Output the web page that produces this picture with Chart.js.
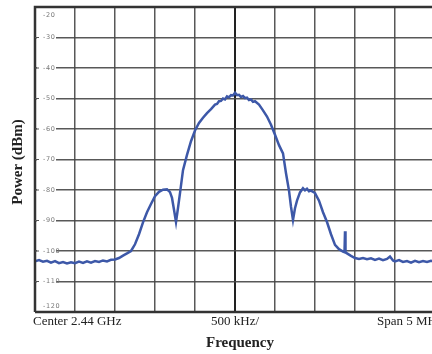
<!DOCTYPE html>
<html>
<head>
<meta charset="utf-8">
<script src="https://cdn.jsdelivr.net/npm/chart.js@4.4.1/dist/chart.umd.min.js"></script>
<style>
  html, body { margin: 0; padding: 0; background: #fff; overflow: hidden; width: 432px; height: 354px; }
  canvas { display: block; }
</style>
</head>
<body>
<canvas id="c" width="440" height="354" style="width:440px;height:354px"></canvas>
<script>
// Frequency offset from centre (MHz) and measured power (dBm)
const freqMHz = [
  -2.50, -2.45, -2.40, -2.35, -2.30, -2.25, -2.20, -2.15, -2.10, -2.05,
  -2.00, -1.95, -1.90, -1.85, -1.80, -1.75, -1.70, -1.65, -1.60, -1.55,
  -1.50, -1.45, -1.40, -1.35, -1.30, -1.25, -1.20, -1.15, -1.10, -1.05,
  -1.00, -0.95, -0.90, -0.85, -0.8125, -0.7875, -0.7625, -0.7375, -0.7125, -0.6875,
  -0.65, -0.60, -0.55, -0.50, -0.45, -0.40, -0.35, -0.30, -0.25, -0.225, -0.20,
  -0.175, -0.15, -0.125, -0.10, -0.075, -0.05, -0.025, 0.00, 0.025, 0.05, 0.075, 0.10, 0.125, 0.15, 0.175, 0.20, 0.225, 0.25, 0.30,
  0.35, 0.40, 0.45, 0.50, 0.55, 0.60, 0.6375, 0.675, 0.70, 0.725,
  0.75, 0.775, 0.8125, 0.85, 0.875, 0.90, 0.925, 0.95, 1.00, 1.05, 1.10, 1.15,
  1.20, 1.25, 1.30, 1.35, 1.36875, 1.375, 1.38125, 1.40, 1.45, 1.50,
  1.55, 1.60, 1.65, 1.70, 1.75, 1.80, 1.85, 1.90, 1.9375, 1.975,
  2.00, 2.05, 2.10, 2.15, 2.20, 2.25, 2.30, 2.35, 2.40, 2.45, 2.50
];
const powerDbm = [
  -103.4, -103.0, -103.5, -103.2, -103.8, -103.3, -104.0, -103.6, -104.1, -103.7,
  -104.0, -103.5, -103.9, -103.4, -103.8, -103.3, -103.6, -103.1, -103.4, -102.9,
  -102.8, -102.3, -101.5, -100.8, -100.0, -97.8, -94.5, -90.6, -87.3, -84.6,
  -82.0, -80.6, -79.9, -79.8, -80.7, -82.6, -86.5, -90.5, -85.9, -81.0,
  -73.5, -68.5, -64.0, -60.5, -58.0, -56.3, -54.8, -53.5, -52.0, -51.8, -50.9,
  -50.8, -50.0, -50.3, -49.3, -49.6, -48.9, -49.0, -48.1, -48.9, -48.8, -49.5, -49.2, -49.9, -49.7, -50.5, -50.3, -51.1, -50.9, -52.0,
  -53.9, -55.9, -58.6, -61.9, -65.3, -68.0, -74.5, -80.2, -85.5, -89.8,
  -86.0, -83.5, -80.8, -79.4, -80.1, -79.6, -80.4, -80.2, -81.0, -83.5, -87.3, -90.5,
  -94.5, -98.0, -99.4, -100.2, -100.4, -93.5, -100.5, -100.8, -101.6, -102.3,
  -102.6, -102.3, -102.7, -102.4, -102.9, -102.5, -103.0, -102.6, -101.8, -103.1,
  -103.4, -103.0, -103.6, -103.3, -103.8, -103.2, -103.7, -103.3, -103.6, -103.2, -103.5
];
const yTickLabels = ['-20', '-30', '-40', '-50', '-60', '-70', '-80', '-90', '-100', '-110', '-120'];
const xInfoLabels = ['Center 2.44 GHz', '500 kHz/', 'Span 5 MHz'];
const xTitle = 'Frequency';
const yTitle = 'Power (dBm)';

const textPlugin = {
  id: 'texts',
  beforeDraw(chart) {
    const ctx = chart.ctx;
    ctx.save();
    ctx.fillStyle = '#fff';
    ctx.fillRect(0, 0, chart.width, chart.height);
    ctx.restore();
  },
  afterDraw(chart) {
    const ctx = chart.ctx;
    const ys = chart.scales.y, xs = chart.scales.x;
    const ca = chart.chartArea;
    ctx.save();
    // border lines
    ctx.strokeStyle = '#333';
    ctx.lineWidth = 2.5;
    ctx.beginPath();
    ctx.moveTo(ca.left, ca.bottom); ctx.lineTo(ca.left, ca.top);
    ctx.lineTo(ca.right, ca.top);
    ctx.moveTo(ca.left, ca.bottom); ctx.lineTo(ca.right, ca.bottom);
    ctx.stroke();
    // y tick labels inside plot
    ctx.font = '6.5px "DejaVu Sans"';
    ctx.textBaseline = 'middle';
    ctx.textAlign = 'left';
    yTickLabels.forEach((lab, i) => {
      let y = ys.getPixelForValue(Number(lab));
      if (i === 0) y += 8;
      if (i === yTickLabels.length - 1) y -= 6;
      ctx.fillStyle = '#fff';
      ctx.fillRect(ca.left + 2, y - 3, 19, 6);
      ctx.strokeStyle = '#555';
      ctx.lineWidth = 1;
      if (i > 0 && i < yTickLabels.length - 1) {
        ctx.beginPath(); ctx.moveTo(ca.left, y); ctx.lineTo(ca.left + 4, y); ctx.stroke();
      }
      ctx.fillStyle = '#777';
      let x = ca.left + 8;
      for (const ch of lab) { ctx.fillText(ch, x, y); x += ctx.measureText(ch).width + 0.6; }
    });
    // x info labels
    ctx.fillStyle = '#222';
    ctx.font = '13px "Liberation Serif"';
    ctx.textBaseline = 'alphabetic';
    ctx.textAlign = 'left';
    ctx.fillText(xInfoLabels[0], ca.left - 2, ca.bottom + 13);
    ctx.textAlign = 'center';
    ctx.fillText(xInfoLabels[1], xs.getPixelForValue(0), ca.bottom + 13);
    ctx.textAlign = 'left';
    ctx.fillText(xInfoLabels[2], 377, ca.bottom + 13);
    // titles
    ctx.font = 'bold 15px "Liberation Serif"';
    ctx.textAlign = 'center';
    ctx.textBaseline = 'middle';
    ctx.fillText(xTitle, 240, 343);
    ctx.translate(18, 162);
    ctx.rotate(-Math.PI / 2);
    ctx.fillText(yTitle, 0, 0);
    ctx.restore();
  }
};

new Chart(document.getElementById('c'), {
  type: 'line',
  data: {
    datasets: [{
      data: freqMHz.map((f, i) => ({ x: f, y: powerDbm[i] })),
      borderColor: '#3d58a8',
      borderWidth: 2.5,
      pointRadius: 0,
      tension: 0,
      fill: false
    }]
  },
  options: {
    responsive: false,
    devicePixelRatio: 1,
    animation: false,
    layout: { padding: { top: 7, right: 5, left: 0, bottom: 0 } },
    plugins: { legend: { display: false }, tooltip: { enabled: false } },
    scales: {
      x: {
        type: 'linear', min: -2.5, max: 2.5,
        ticks: { display: false, stepSize: 0.5 },
        border: { display: false },
        grid: {
          drawTicks: false,
          color: c => Math.abs(c.tick.value) < 1e-9 ? '#222' : 'rgba(70,70,70,0.9)',
          lineWidth: c => Math.abs(c.tick.value) < 1e-9 ? 2 : 1.5
        },
        afterFit: s => { s.height = 42; }
      },
      y: {
        type: 'linear', min: -120, max: -20,
        ticks: { display: false, stepSize: 10 },
        border: { display: false },
        grid: { drawTicks: false, color: 'rgba(70,70,70,0.9)', lineWidth: 1.5 },
        afterFit: s => { s.width = 35; }
      }
    }
  },
  plugins: [textPlugin]
});
</script>
</body>
</html>
